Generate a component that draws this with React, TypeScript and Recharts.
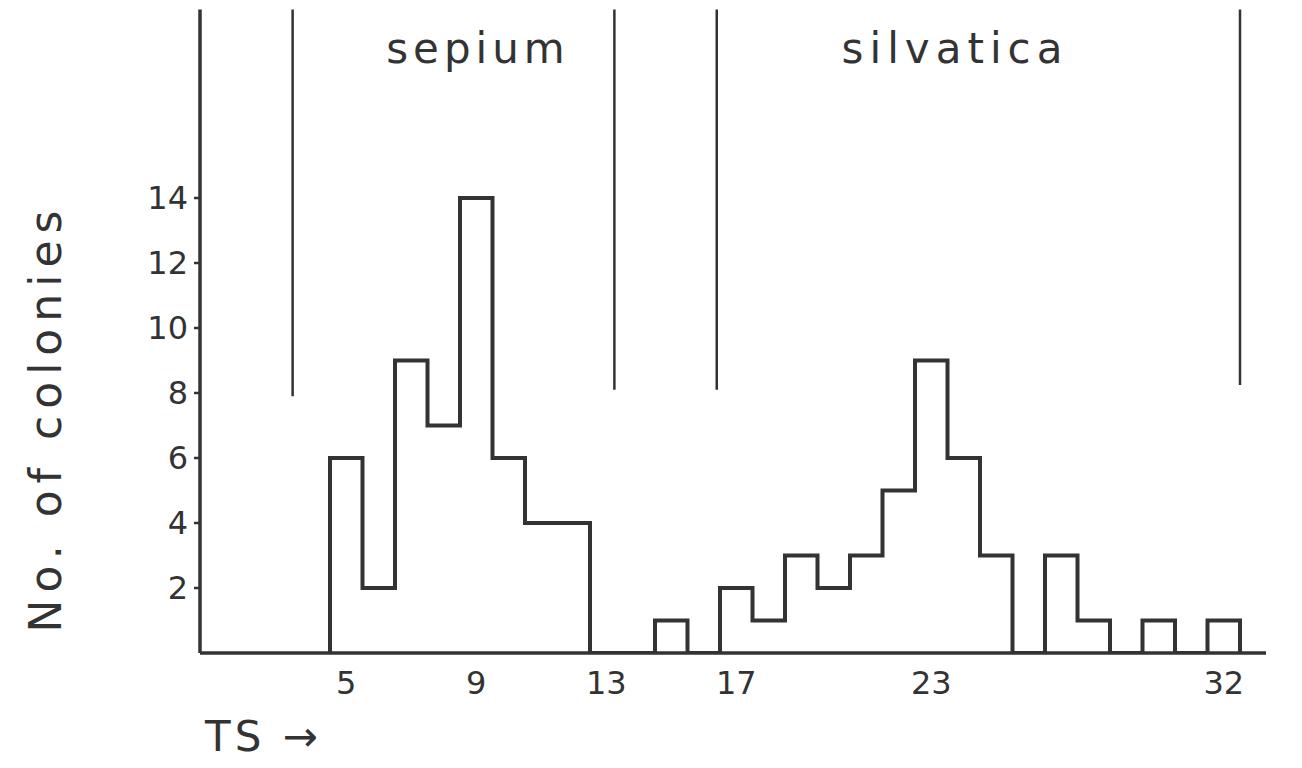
import React from "react"
import { ComposedChart, Line, XAxis, YAxis, ReferenceLine } from "recharts"

// TS class (bin centre) and number of colonies in each bin
const tsBins = [5, 6, 7, 8, 9, 10, 11, 12, 13, 14, 15, 16, 17, 18, 19, 20, 21, 22, 23, 24, 25, 26, 27, 28, 29, 30, 31, 32]
const colonies = [6, 2, 9, 7, 14, 6, 4, 4, 0, 0, 1, 0, 2, 1, 3, 2, 3, 5, 9, 6, 3, 0, 3, 1, 0, 1, 0, 1]

const xTicks = [5, 9, 13, 17, 23, 32]
const yTicks = [2, 4, 6, 8, 10, 12, 14]

// vertical divider lines at top: x position and lower end (upper end is the top of the plot)
const dividerX = [3.35, 13.25, 16.4, 32.5]
const dividerBottom = [7.9, 8.1, 8.1, 8.25]

const Y_MAX = 19.8
const INK = "#333"
const FONT = "'DejaVu Sans', sans-serif"

// step outline: start at the left edge of the first bin on the baseline
const outline = [
  { x: tsBins[0] - 0.5, y: 0 },
  ...tsBins.map((b, i) => ({ x: b - 0.5, y: colonies[i] })),
  { x: tsBins[tsBins.length - 1] + 0.5, y: 0 },
]

const textStyle: React.CSSProperties = {
  position: "absolute",
  fontFamily: FONT,
  color: INK,
  whiteSpace: "nowrap",
}

export default function App() {
  return (
    <div style={{ position: "absolute", left: 0, top: 0, width: 1302, height: 768, background: "#fff" }}>
      <ComposedChart
        width={1302}
        height={768}
        data={outline}
        margin={{ top: 9.5, right: 36, bottom: 55, left: 140 }}
      >
        <XAxis
          type="number"
          dataKey="x"
          domain={[0.5, 33.3]}
          ticks={xTicks}
          allowDataOverflow
          height={60}
          tickLine={false}
          tickSize={0}
          tickMargin={18}
          axisLine={{ stroke: INK, strokeWidth: 3.5 }}
          tick={{ fontSize: 32, fill: INK, fontFamily: FONT }}
        />
        <YAxis
          type="number"
          domain={[0, Y_MAX]}
          ticks={yTicks}
          allowDataOverflow
          width={60}
          tickSize={6}
          tickMargin={6}
          tickLine={{ stroke: INK, strokeWidth: 2.5 }}
          axisLine={{ stroke: INK, strokeWidth: 3.5 }}
          tick={{ fontSize: 32, fill: INK, fontFamily: FONT }}
        />
        {dividerX.map((x, i) => (
          <ReferenceLine
            key={x}
            segment={[
              { x, y: dividerBottom[i] },
              { x, y: Y_MAX },
            ]}
            stroke={INK}
            strokeWidth={2.5}
            ifOverflow="extendDomain"
          />
        ))}
        <Line
          type="stepAfter"
          dataKey="y"
          stroke={INK}
          strokeWidth={4}
          dot={false}
          isAnimationActive={false}
        />
      </ComposedChart>
      <div style={{ ...textStyle, left: 478, top: 48, fontSize: 42, letterSpacing: 5, transform: "translate(-50%, -50%)" }}>
        sepium
      </div>
      <div style={{ ...textStyle, left: 955, top: 48, fontSize: 42, letterSpacing: 6, transform: "translate(-50%, -50%)" }}>
        silvatica
      </div>
      <div
        style={{
          ...textStyle,
          left: 45,
          top: 418,
          fontSize: 44,
          letterSpacing: 7,
          transform: "translate(-50%, -50%) rotate(-90deg)",
        }}
      >
        No. of colonies
      </div>
      <div style={{ ...textStyle, left: 205, top: 712, fontSize: 42, letterSpacing: 4 }}>
        TS →
      </div>
    </div>
  )
}
